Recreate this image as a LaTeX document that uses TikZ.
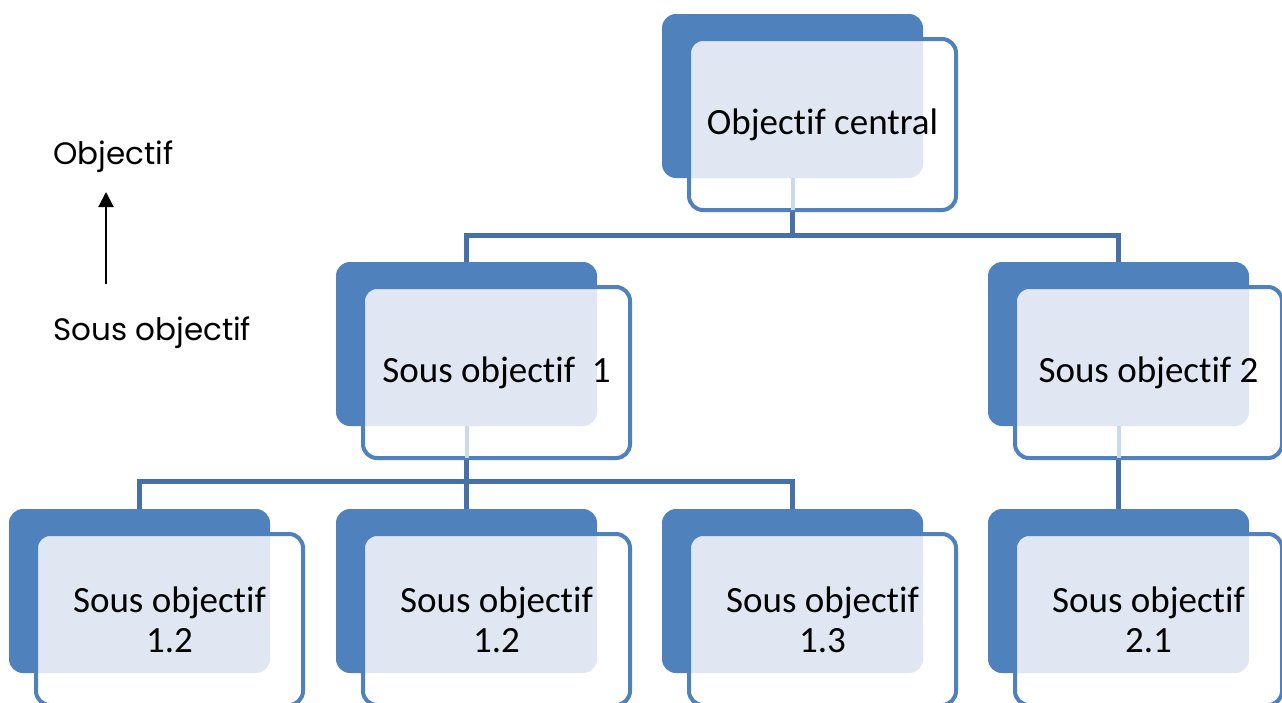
\documentclass[tikz,border=0pt]{standalone}
\usepackage{fontspec}
\setmainfont{Carlito}[RawFeature={-liga;-clig;-calt}]
\newfontfamily\legendfont{Poppins}[RawFeature={-liga;-clig;-calt}]
\usetikzlibrary{arrows.meta}

\definecolor{accent}{RGB}{79,129,189}
\definecolor{linkblue}{RGB}{70,113,168}
\definecolor{tint}{RGB}{224,231,242}

\tikzset{
  x=1pt, y=-1pt,
  backbox/.style={fill=accent, rounded corners=14pt, minimum width=261pt,
    minimum height=164pt, inner sep=0pt, outer sep=0pt, anchor=north west},
  frontbox/.style={draw=accent, line width=4pt, fill=white, rounded corners=14pt,
    minimum width=267pt, minimum height=171pt, inner sep=0pt, outer sep=0pt,
    anchor=north west, align=center, text=black,
    font=\fontsize{37}{40}\selectfont},
  link/.style={draw=linkblue, line width=5pt},
  faintlink/.style={draw=accent!30, line width=4pt},
  legend/.style={font=\legendfont\fontsize{31}{36}\selectfont, anchor=west,
    inner sep=0pt, text=black},
  pointer/.style={line width=2pt, -{Triangle[length=15pt,width=15pt]}}
}

% one objective card: solid back tab, outlined front card, shaded overlap
\newcommand\objcard[4]{%
  \node[backbox] (#1b) at (#2,#3) {};
  \node[frontbox, path picture={%
      \fill[tint, rounded corners=14pt] (#1b.south west) rectangle (#1b.north east);}]
    (#1) at (#2+27,#3+25) {#4};
}

\begin{document}
\begin{tikzpicture}
\clip (0,0) rectangle (1282,702);
\fill[white] (0,0) rectangle (1282,702);

% connectors, laid before the cards
\path (792.5,177) coordinate (topjoin) (466.5,426) coordinate (s1join)
      (1118.5,426) coordinate (s2join);
\draw[link] (topjoin) -- ++(0,58) coordinate (j0);
\draw[link] (j0) -| (466.5,262);
\draw[link] (j0) -| (1118.5,262);
\draw[link] (s1join) -- ++(0,55) coordinate (j1);
\draw[link] (j1) -| (139.5,509);
\draw[link] (j1) -| (466.5,509);
\draw[link] (j1) -| (792.5,509);
\draw[link] (s2join) -- (1118.5,509);

\objcard{top}{662}{14}{Objectif central}
\objcard{s1}{336}{262}{Sous objectif\ \ 1}
\objcard{s2}{988}{262}{Sous objectif 2}
\objcard{b1}{9}{509}{Sous objectif\\1.2}
\objcard{b2}{336}{509}{Sous objectif\\1.2}
\objcard{b3}{662}{509}{Sous objectif\\1.3}
\objcard{b4}{988}{509}{Sous objectif\\2.1}

% connector stubs seen through the front cards
\draw[faintlink] (topb.south) -- (topb.south |- top.south);
\draw[faintlink] (s1b.south) -- (s1b.south |- s1.south);
\draw[faintlink] (s2b.south) -- (s2b.south |- s2.south);

% legend
\node[legend] (lgobj) at (53,157) {Objectif};
\node[legend] (lgsub) at (53,333) {Sous objectif};
\coordinate (arrfrom) at (106,284);
\coordinate (arrto) at (106,192);
\draw[pointer] (arrfrom) -- (arrto);
\end{tikzpicture}
\end{document}
